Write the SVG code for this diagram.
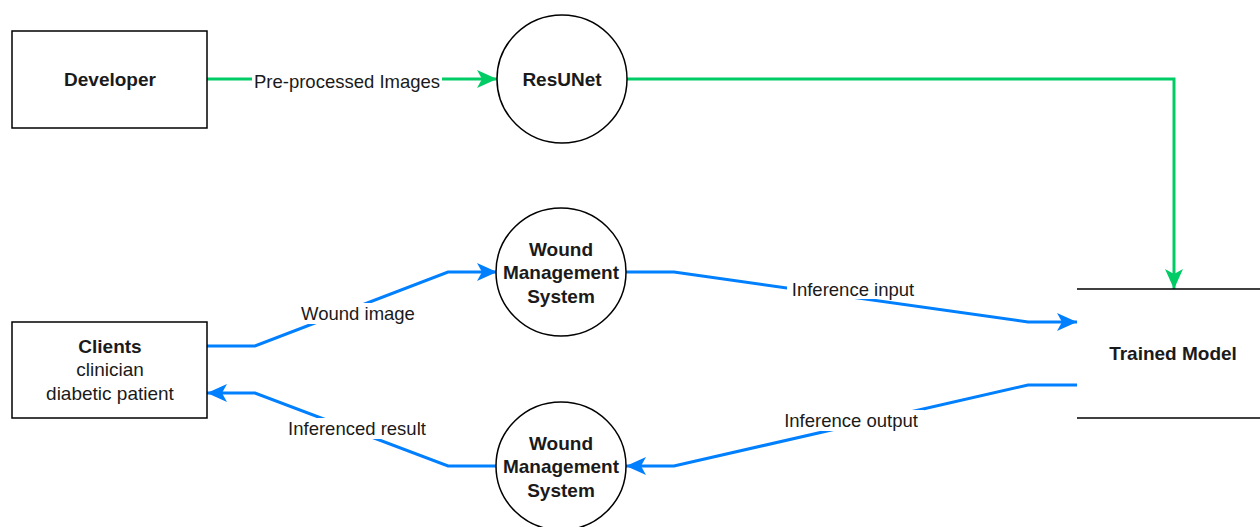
<svg xmlns="http://www.w3.org/2000/svg" width="1260" height="527" viewBox="0 0 1260 527">
  <style>
    .box { fill: #ffffff; stroke: #000000; stroke-width: 1.5; }
    .title { font-family: "Liberation Sans", Arial, sans-serif; font-size: 19px; font-weight: bold; fill: #1a1a1a; text-anchor: middle; dominant-baseline: central; }
    .sub { font-family: "Liberation Sans", Arial, sans-serif; font-size: 19px; fill: #1a1a1a; text-anchor: middle; dominant-baseline: central; }
    .lbl { font-family: "Liberation Sans", Arial, sans-serif; font-size: 18.5px; fill: #1a1a1a; text-anchor: middle; dominant-baseline: central; }
    .lblbg { fill: #ffffff; stroke: none; }
    .green { fill: none; stroke: #00CC66; stroke-width: 3; marker-end: url(#arrowG); }
    .blue { fill: none; stroke: #007FFF; stroke-width: 3; marker-end: url(#arrowB); }
  </style>
  <defs>
    <marker id="arrowG" markerUnits="userSpaceOnUse" markerWidth="22" markerHeight="20" refX="20" refY="9" orient="auto" overflow="visible">
      <path d="M0,0 L20,9 L0,18 L5,9 Z" fill="#00CC66"/>
    </marker>
    <marker id="arrowB" markerUnits="userSpaceOnUse" markerWidth="22" markerHeight="20" refX="20" refY="9" orient="auto" overflow="visible">
      <path d="M0,0 L20,9 L0,18 L5,9 Z" fill="#007FFF"/>
    </marker>
  </defs>
  <rect width="1260" height="527" fill="#ffffff"/>

  <g id="connectors">
    <g id="edge-preprocessed">
      <path class="green" d="M207,79 L497,79"/>
      <rect class="lblbg" x="252" y="70" width="190" height="22"/>
      <text class="lbl" x="347" y="81">Pre-processed Images</text>
    </g>
    <g id="edge-resunet-model">
      <path class="green" d="M627,79 L1174,79 L1174,289"/>
    </g>
    <g id="edge-wound-image">
      <path class="blue" d="M207,346 L255,346 L448,272 L497,272"/>
      <rect class="lblbg" x="298" y="303" width="120" height="21"/>
      <text class="lbl" x="358" y="313">Wound image</text>
    </g>
    <g id="edge-inferenced-result">
      <path class="blue" d="M497,466 L448,466 L255,393 L207,393"/>
      <rect class="lblbg" x="283" y="418" width="148" height="21"/>
      <text class="lbl" x="357" y="428">Inferenced result</text>
    </g>
    <g id="edge-inference-input">
      <path class="blue" d="M626,272 L674,272 L1028,322 L1077,322"/>
      <rect class="lblbg" x="787" y="279" width="133" height="20"/>
      <text class="lbl" x="853" y="289">Inference input</text>
    </g>
    <g id="edge-inference-output">
      <path class="blue" d="M1077,385 L1028,385 L674,466 L626,466"/>
      <rect class="lblbg" x="779" y="410" width="145" height="21"/>
      <text class="lbl" x="851" y="420">Inference output</text>
    </g>
  </g>

  <g id="developer">
    <rect class="box" x="12" y="31" width="195" height="97"/>
    <text class="title" x="110" y="79">Developer</text>
  </g>

  <g id="resunet">
    <ellipse class="box" cx="562" cy="79" rx="65" ry="64"/>
    <text class="title" x="562" y="79">ResUNet</text>
  </g>

  <g id="wms-top">
    <ellipse class="box" cx="561" cy="272" rx="65" ry="64"/>
    <text class="title" x="561" y="249">Wound</text>
    <text class="title" x="561" y="272">Management</text>
    <text class="title" x="561" y="296">System</text>
  </g>

  <g id="wms-bottom">
    <ellipse class="box" cx="561" cy="466" rx="65" ry="64"/>
    <text class="title" x="561" y="443">Wound</text>
    <text class="title" x="561" y="466">Management</text>
    <text class="title" x="561" y="490">System</text>
  </g>

  <g id="clients">
    <rect class="box" x="12" y="322" width="195" height="96"/>
    <text class="title" x="110" y="346">Clients</text>
    <text class="sub" x="110" y="369">clinician</text>
    <text class="sub" x="110" y="393">diabetic patient</text>
  </g>

  <g id="trained-model">
    <line x1="1077" y1="289" x2="1260" y2="289" stroke="#000000" stroke-width="1.5"/>
    <line x1="1077" y1="418" x2="1260" y2="418" stroke="#000000" stroke-width="1.5"/>
    <text class="title" x="1173" y="353">Trained Model</text>
  </g>
</svg>
